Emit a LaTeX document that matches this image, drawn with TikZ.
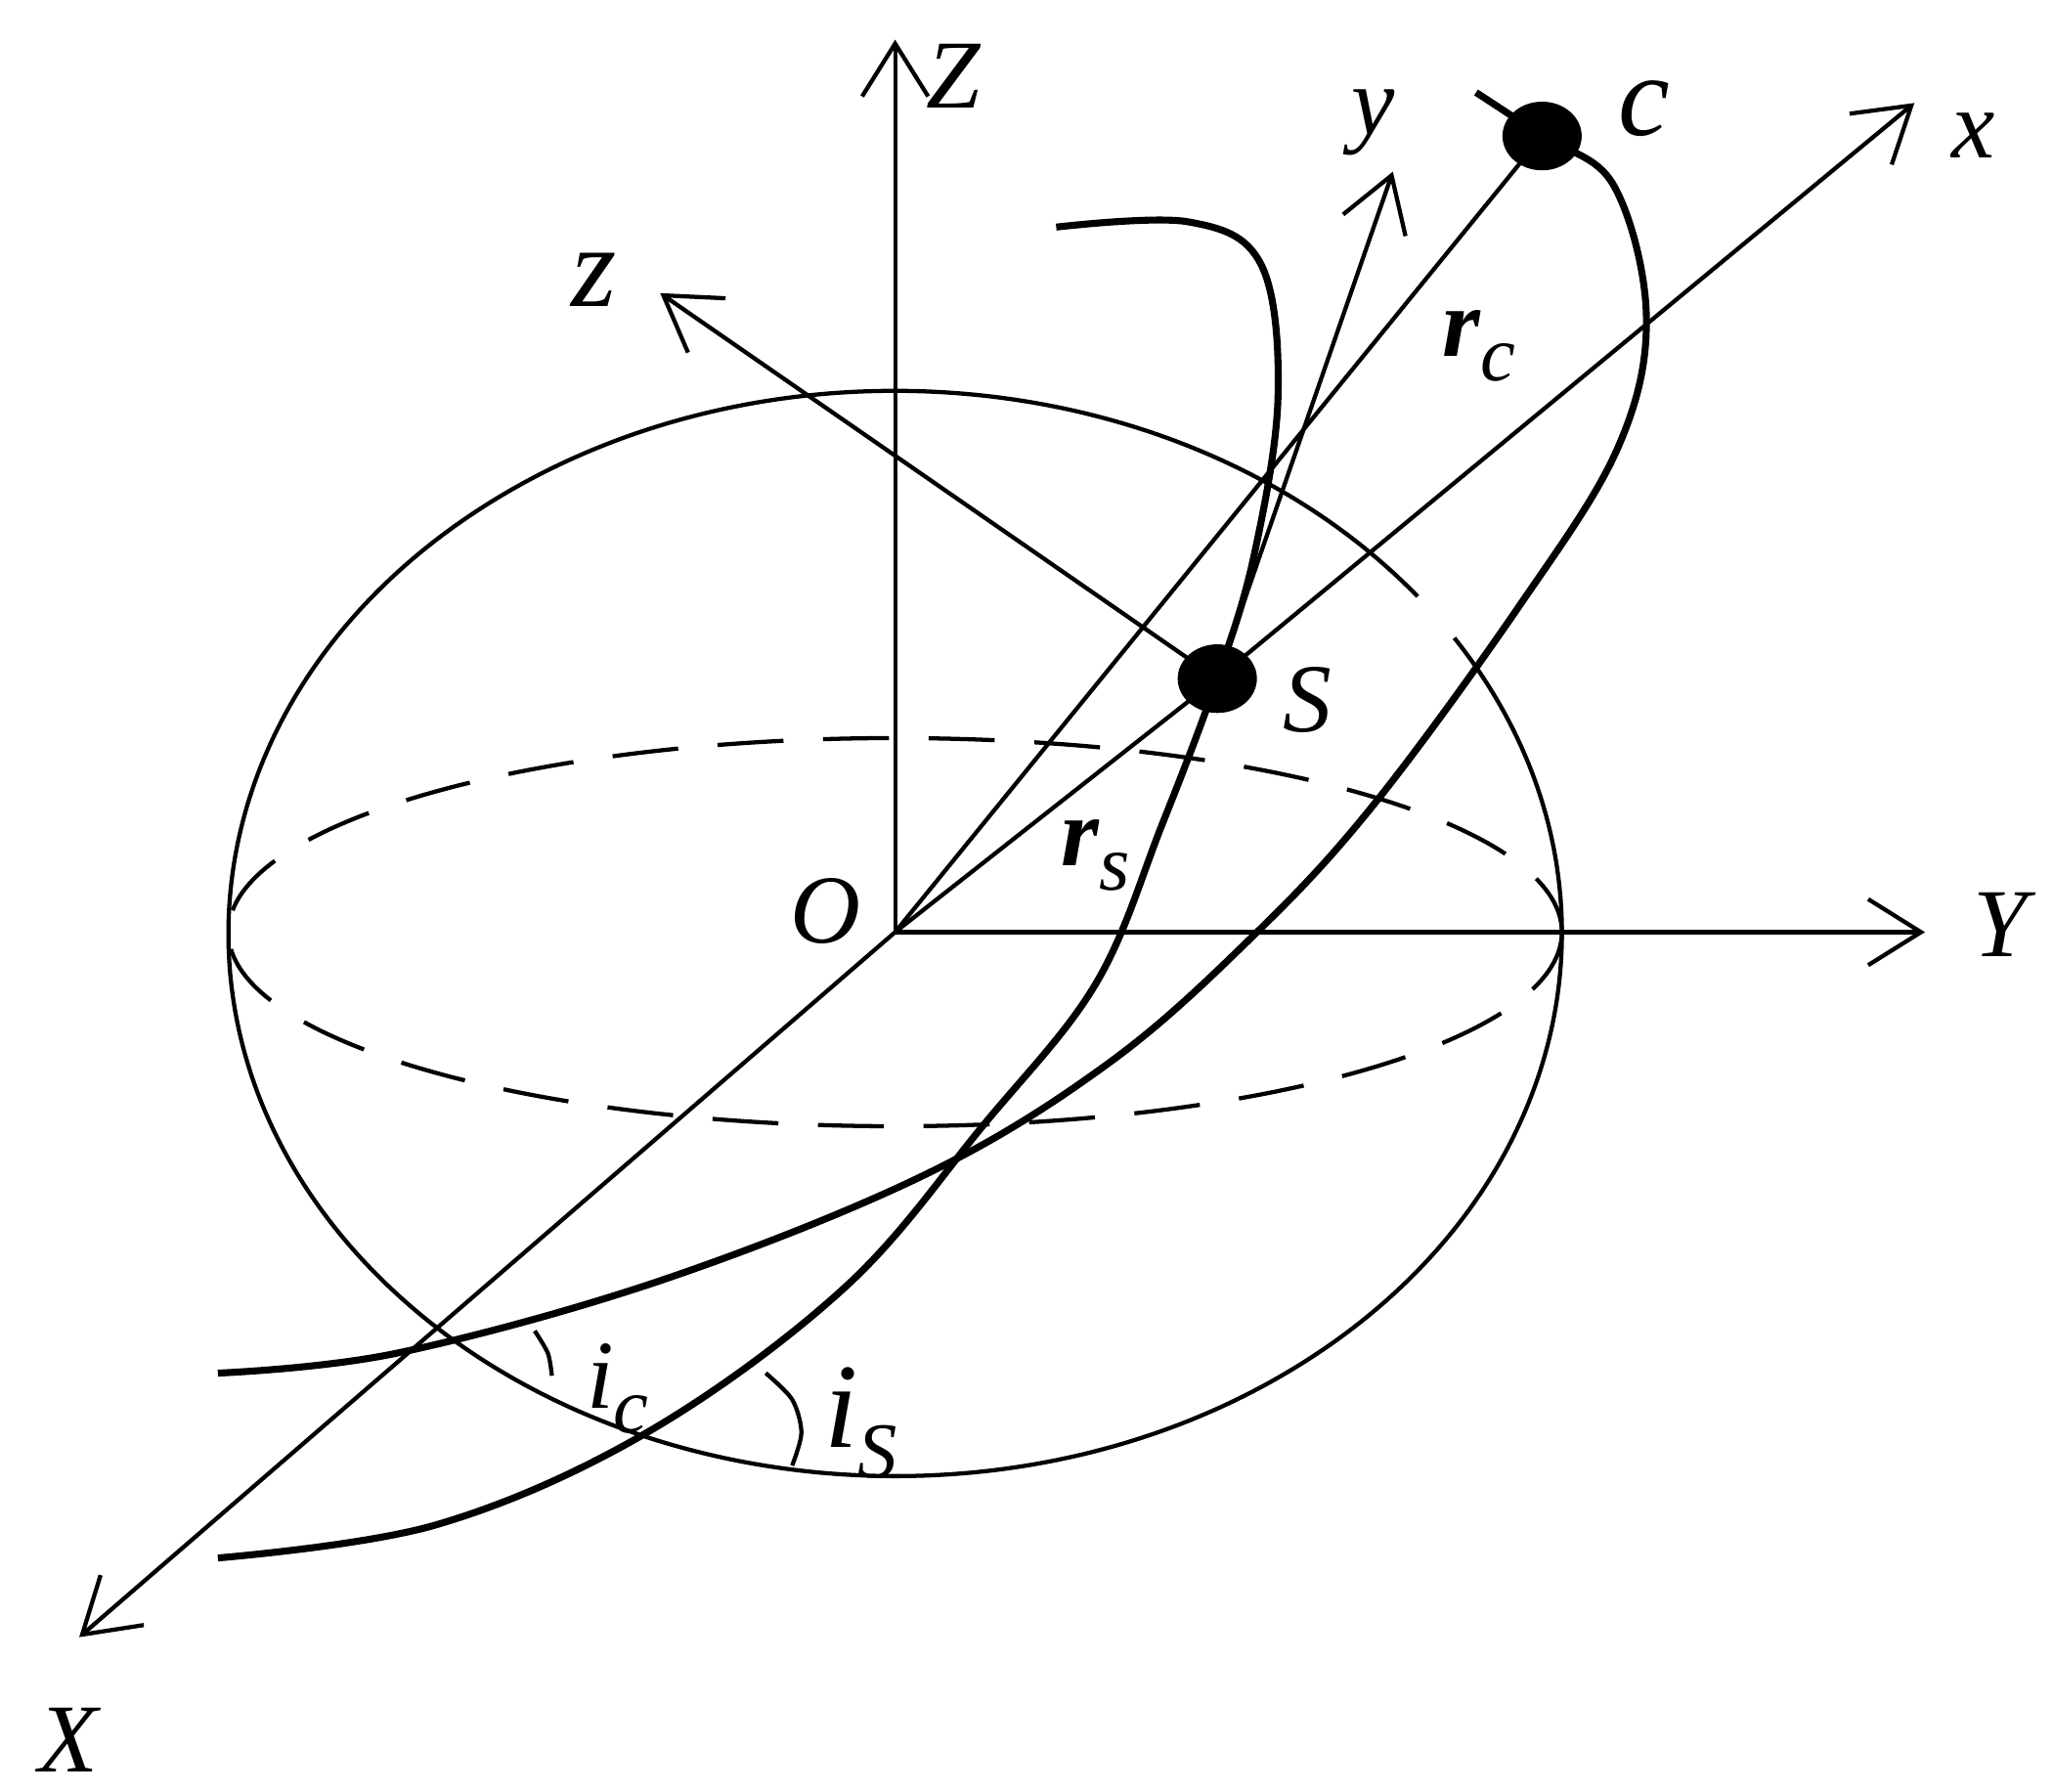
\documentclass[tikz,border=0pt]{standalone}
\usepackage{fontspec}
\setmainfont{Liberation Serif}
\usetikzlibrary{arrows.meta,shapes.geometric}
\newcommand{\subsc}[1]{\raisebox{-0.55ex}{\fontsize{17}{19}\selectfont\itshape #1}}
\begin{document}
\begin{tikzpicture}[x=0.1mm,y=-0.1mm,
  thin line/.style={line width=0.9pt},
  thick line/.style={line width=1.5pt},
  axis/.style={thin line,-{Straight Barb[length=4mm,width=5mm]}},
  lab/.style={font=\fontsize{21}{24}\selectfont\itshape},
  dot/.style={ellipse,fill=black,minimum width=6mm,minimum height=5.2mm,inner sep=0pt}]
\useasboundingbox (0,0) rectangle (1555,1357);
\coordinate (O) at (678,706);
\node[dot] (S) at (922,514) {};
\node[dot] (C) at (1168,103) {};
\coordinate (Zt) at (678,30);
\coordinate (Yt) at (1458,706);
\coordinate (Xt) at (60,1240);
\coordinate (xt) at (1450,78);
\coordinate (yt) at (1055,130);
\coordinate (zt) at (500,222);
% sphere
\draw[thin line] (678,707) ++(38.4:505 and -411) arc[start angle=38.4,end angle=393,x radius=505,y radius=-411];
\draw[thin line,dash pattern=on 5mm off 3mm] (678,706) ellipse[x radius=505,y radius=147];
% axes
\draw[axis] (O) -- (Zt);
\draw[axis] (O) -- (Yt);
\draw[axis] (O) -- (Xt);
\draw[thin line] (O) -- (S.center);
\draw[thin line] (O) -- (C.center);
\draw[axis] (S.center) -- (xt);
\draw[axis] (S.center) -- (yt);
\draw[axis] (S.center) -- (zt);
% orbits
\draw[thick line] plot[smooth,tension=0.6] coordinates{(800,172) (900,168) (955,200) (968,300) (950,420) (922,514) (880,625) (830,745) (745,852) (640,975) (490,1085) (330,1155) (165,1180)};
\draw[thick line] plot[smooth,tension=0.6] coordinates{(1118,70) (1168,103) (1222,140) (1247,240) (1225,340) (1150,460) (1040,610) (950,708) (840,805) (700,890) (500,970) (300,1025) (165,1040)};
% angle arcs
\draw[thin line] plot[smooth] coordinates{(405,1008) (415,1025) (418,1042)};
\draw[thin line] plot[smooth] coordinates{(580,1040) (600,1060) (607,1085) (600,1110)};
% labels
\node[lab] (lZ) at (722,58) {Z};
\node[lab] (lY) at (1515,700) {Y};
\node[lab] (lX) at (52,1318) {X};
\node[lab] (lO) at (625,690) {O};
\node[lab] (lx) at (1495,103) {x};
\node[lab] (ly) at (1040,93) {y};
\node[lab,font=\fontsize{25}{28}\selectfont\itshape] (lz) at (450,212) {z};
\node[lab] (lS) at (990,530) {S};
\node[lab,font=\fontsize{25}{28}\selectfont\itshape] (lc) at (1245,82) {c};
\node[lab] (lrc) at (1120,262) {\textbf{r}\subsc{c}};
\node[lab] (lrs) at (830,648) {\textbf{r}\subsc{s}};
\node[lab] (lic) at (468,1052) {i\subsc{c}};
\node[lab] (lis) at (652,1078) {\fontsize{26}{28}\selectfont i\subsc{S}};
\end{tikzpicture}
\end{document}
